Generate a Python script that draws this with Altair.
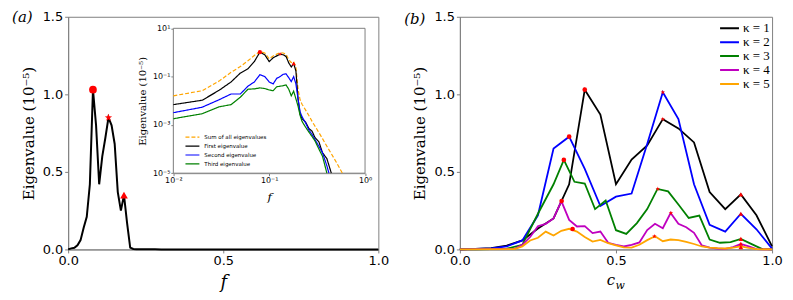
import altair as alt
import pandas as pd

# ---------------- Panel (a): eigenvalues vs f ----------------
f_first = [0.01, 0.02, 0.03, 0.04, 0.05, 0.06, 0.07, 0.08, 0.09, 0.10,
           0.11, 0.12, 0.13, 0.14, 0.15, 0.16, 0.17, 0.18, 0.19, 0.20,
           0.21, 0.22, 0.24, 0.26, 0.28, 0.30, 0.33, 0.36, 0.40, 0.445]
first_eig = [0.0069, 0.0105, 0.027, 0.06, 0.14, 0.21, 0.42, 1.03, 0.80, 0.42,
             0.60, 0.72, 0.85, 0.80, 0.68, 0.37, 0.25, 0.35, 0.17, 0.012,
             0.0028, 0.0018, 0.0013, 0.0007, 0.00055, 0.0003, 0.0002, 0.00007, 0.00004, 0.00001]

f_sum = [0.01, 0.02, 0.03, 0.04, 0.05, 0.06, 0.07, 0.08, 0.09, 0.10,
         0.11, 0.12, 0.13, 0.14, 0.15, 0.16, 0.17, 0.18, 0.19, 0.20,
         0.21, 0.22, 0.24, 0.26, 0.28, 0.30, 0.33, 0.36, 0.40, 0.45, 0.50, 0.58]
sum_eig = [0.016, 0.026, 0.065, 0.15, 0.26, 0.45, 0.75, 1.1, 0.95, 0.55,
           0.72, 0.85, 0.98, 0.95, 0.85, 0.50, 0.38, 0.42, 0.25, 0.03,
           0.011, 0.0072, 0.0041, 0.0024, 0.0014, 0.0009, 0.00048, 0.00027, 0.00013,
           0.000059, 0.000029, 0.00001]

f_second = [0.01, 0.02, 0.03, 0.04, 0.05, 0.06, 0.07, 0.08, 0.09, 0.10,
            0.11, 0.12, 0.13, 0.14, 0.15, 0.16, 0.17, 0.18, 0.19, 0.20,
            0.21, 0.22, 0.24, 0.26, 0.28, 0.30, 0.33, 0.36, 0.40, 0.42]
second_eig = [0.0032, 0.0054, 0.011, 0.019, 0.019, 0.04, 0.06, 0.12, 0.10, 0.06,
              0.05, 0.085, 0.10, 0.125, 0.13, 0.09, 0.062, 0.10, 0.05, 0.012,
              0.0035, 0.0022, 0.0012, 0.0006, 0.0004, 0.00025, 0.00013, 0.00007, 0.00002, 0.00001]

f_third = [0.01, 0.02, 0.03, 0.04, 0.05, 0.06, 0.07, 0.08, 0.09, 0.10,
           0.11, 0.12, 0.13, 0.14, 0.15, 0.16, 0.17, 0.18, 0.19, 0.20,
           0.21, 0.22, 0.24, 0.26, 0.28, 0.30, 0.33, 0.36, 0.40]
third_eig = [0.0018, 0.0029, 0.0056, 0.0069, 0.014, 0.03, 0.031, 0.034, 0.032, 0.028,
             0.026, 0.038, 0.04, 0.042, 0.045, 0.03, 0.016, 0.025, 0.012, 0.006,
             0.0025, 0.0014, 0.0008, 0.0005, 0.00033, 0.00022, 0.0001, 0.00005, 0.00001]

series_names = ["Sum of all eigenvalues", "First eigenvalue", "Second eigenvalue", "Third eigenvalue"]
series_colors = ["orange", "black", "blue", "green"]

# main (linear) curve = first eigenvalue, starting at 0 and flat at 0 up to f = 1
f_main = [0.0] + f_first + [0.5, 1.0]
eig_main = [0.0] + first_eig + [0.0, 0.0]

peak_f = [0.08, 0.13, 0.18]
peak_v = [1.03, 0.85, 0.35]
peak_shape = ["circle", "star", "triangle"]

# ---------------- Panel (b): eigenvalues vs c_w ----------------
kappa_names = ["κ = 1", "κ = 2", "κ = 3", "κ = 4", "κ = 5"]
kappa_colors = ["black", "blue", "green", "#bf00bf", "orange"]

cw_k1 = [0.0, 0.05, 0.10, 0.15, 0.20, 0.25, 0.30, 0.35, 0.40, 0.45, 0.50,
         0.55, 0.60, 0.65, 0.70, 0.75, 0.80, 0.85, 0.90, 0.95, 1.0]
eig_k1 = [0.0, 0.004, 0.009, 0.025, 0.058, 0.135, 0.20, 0.42, 1.03, 0.87, 0.42,
          0.58, 0.67, 0.84, 0.78, 0.69, 0.37, 0.26, 0.355, 0.22, 0.02]

cw_k2 = [0.0, 0.05, 0.10, 0.15, 0.20, 0.25, 0.30, 0.35, 0.40, 0.45, 0.50,
         0.55, 0.60, 0.65, 0.70, 0.75, 0.80, 0.85, 0.90, 0.95, 1.0]
eig_k2 = [0.0, 0.003, 0.007, 0.02, 0.058, 0.22, 0.65, 0.727, 0.52, 0.28, 0.34,
          0.36, 0.68, 1.013, 0.84, 0.42, 0.158, 0.115, 0.23, 0.13, 0.005]

cw_k3 = [0.0, 0.05, 0.10, 0.15, 0.20, 0.25, 0.30, 0.333, 0.367, 0.40, 0.433, 0.467,
         0.50, 0.533, 0.567, 0.60, 0.633, 0.667, 0.70, 0.733, 0.767, 0.80, 0.833,
         0.867, 0.90, 0.933, 0.967, 1.0]
eig_k3 = [0.0, 0.001, 0.002, 0.005, 0.03, 0.23, 0.42, 0.577, 0.436, 0.425, 0.26, 0.315,
          0.124, 0.10, 0.17, 0.26, 0.39, 0.374, 0.29, 0.203, 0.218, 0.064, 0.043,
          0.047, 0.068, 0.036, 0.004, 0.0]

cw_k4 = [0.0, 0.175, 0.20, 0.225, 0.25, 0.275, 0.30, 0.325, 0.35, 0.375, 0.40, 0.425,
         0.45, 0.475, 0.50, 0.525, 0.55, 0.575, 0.60, 0.625, 0.65, 0.675, 0.70, 0.725,
         0.75, 0.775, 0.80, 0.825, 0.85, 0.875, 0.90, 0.925, 0.95, 1.0]
eig_k4 = [0.0, 0.004, 0.03, 0.08, 0.15, 0.165, 0.20, 0.312, 0.19, 0.148, 0.15, 0.105,
          0.115, 0.043, 0.03, 0.019, 0.03, 0.045, 0.125, 0.165, 0.137, 0.235, 0.165, 0.143,
          0.107, 0.026, 0.011, 0.006, 0.004, 0.015, 0.036, 0.02, 0.002, 0.0]

cw_k5 = [0.0, 0.175, 0.20, 0.225, 0.25, 0.275, 0.30, 0.325, 0.35, 0.375, 0.40, 0.425,
         0.45, 0.475, 0.50, 0.525, 0.55, 0.575, 0.60, 0.625, 0.65, 0.675, 0.70, 0.725,
         0.75, 0.775, 0.80, 0.825, 0.85, 0.875, 0.90, 0.925, 0.95, 1.0]
eig_k5 = [0.0, 0.002, 0.02, 0.058, 0.075, 0.115, 0.09, 0.12, 0.133, 0.115, 0.08, 0.051,
          0.062, 0.04, 0.026, 0.013, 0.012, 0.03, 0.06, 0.085, 0.053, 0.064, 0.06, 0.048,
          0.035, 0.019, 0.012, 0.008, 0.006, 0.012, 0.02, 0.01, 0.002, 0.0]

mark_cw = [0.40, 0.35, 0.333, 0.326, 0.361,
           0.65, 0.65, 0.634, 0.676, 0.623,
           0.90, 0.90, 0.90, 0.90, 0.90]
mark_v = [1.03, 0.727, 0.577, 0.312, 0.132,
          0.84, 1.013, 0.39, 0.235, 0.085,
          0.355, 0.23, 0.068, 0.036, 0.015]
mark_shape = ["circle"] * 5 + ["star"] * 5 + ["triangle"] * 5

# ---------------- layout constants ----------------
W_A, W_B, H = 312, 314, 234
INSET_X = [105.8, 298.6]
INSET_Y = [157.3, 11.6]
GRAY = "#808080"
STAR = ("M0,-1L0.235,-0.324L0.951,-0.309L0.38,0.124L0.588,0.809L0,0.4"
        "L-0.588,0.809L-0.38,0.124L-0.951,-0.309L-0.235,-0.324Z")
shape_scale = alt.Scale(domain=["circle", "star", "triangle"], range=["circle", STAR, "triangle-up"])

# ---------------- data frames ----------------
df_main = pd.DataFrame({"f": f_main, "v": eig_main})
df_peaks = pd.DataFrame({"f": peak_f, "v": peak_v, "marker": peak_shape})
df_inset = pd.concat([
    pd.DataFrame({"f": f_sum, "v": sum_eig, "series": series_names[0]}),
    pd.DataFrame({"f": f_first, "v": first_eig, "series": series_names[1]}),
    pd.DataFrame({"f": f_second, "v": second_eig, "series": series_names[2]}),
    pd.DataFrame({"f": f_third, "v": third_eig, "series": series_names[3]}),
], ignore_index=True)
df_b = pd.concat([
    pd.DataFrame({"c": cw_k1, "v": eig_k1, "kappa": kappa_names[0]}),
    pd.DataFrame({"c": cw_k2, "v": eig_k2, "kappa": kappa_names[1]}),
    pd.DataFrame({"c": cw_k3, "v": eig_k3, "kappa": kappa_names[2]}),
    pd.DataFrame({"c": cw_k4, "v": eig_k4, "kappa": kappa_names[3]}),
    pd.DataFrame({"c": cw_k5, "v": eig_k5, "kappa": kappa_names[4]}),
], ignore_index=True)
df_bmarks = pd.DataFrame({"c": mark_cw, "v": mark_v, "marker": mark_shape})
one = pd.DataFrame({"k": [0]})

ytitle = "Eigenvalue (10⁻⁵)"

# ---------------- panel (a) main ----------------
x_main = alt.X("f:Q", scale=alt.Scale(domain=[0, 1], nice=False),
               axis=alt.Axis(orient="bottom", values=[0, 0.5, 1], format=".1f", labelFlush=False,
                             title="f", titleFont="DejaVu Serif", titleFontStyle="italic",
                             titleFontWeight="normal", titleFontSize=18, titlePadding=6))
y_main = alt.Y("v:Q", scale=alt.Scale(domain=[0, 1.5], nice=False),
               axis=alt.Axis(orient="left", values=[0, 0.5, 1, 1.5], format=".1f",
                             title=ytitle, titleFont="DejaVu Serif", titleFontWeight="normal",
                             titleFontSize=15, titlePadding=6))

main_line = alt.Chart(df_main).mark_line(color="black", strokeWidth=2).encode(x=x_main, y=y_main)
main_marks = alt.Chart(df_peaks).mark_point(filled=True, color="red", opacity=1, size=60).encode(
    x=x_main, y=y_main, shape=alt.Shape("marker:N", scale=shape_scale, legend=None))
label_a = alt.Chart(one).mark_text(text="(a)", font="DejaVu Serif", fontStyle="italic", fontSize=15,
                                   align="left", baseline="middle", color="black").encode(
    x=alt.value(-56.4), y=alt.value(0))
frame = alt.Chart(one).mark_rect(fill="white", stroke=GRAY, strokeWidth=1).encode(
    x=alt.value(INSET_X[0]), x2=alt.value(INSET_X[1]), y=alt.value(INSET_Y[1]), y2=alt.value(INSET_Y[0]))
main_layer = alt.layer(main_line, main_marks, label_a, frame)

# ---------------- panel (a) inset ----------------
x_in = alt.X("f:Q", scale=alt.Scale(type="log", domain=[0.01, 1], range=INSET_X, nice=False),
             axis=alt.Axis(orient="bottom", offset=-(H - INSET_Y[0]), values=[0.01, 0.1, 1],
                           labelExpr="datum.value < 0.05 ? '10⁻²' : (datum.value < 0.5 ? '10⁻¹' : '10⁰')",
                           labelFontSize=8, tickSize=2.5, labelPadding=1, labelFlush=False,
                           title="f", titleFont="DejaVu Serif", titleFontStyle="italic",
                           titleFontWeight="normal", titleFontSize=12, titlePadding=7))
y_in = alt.Y("v:Q", scale=alt.Scale(type="log", domain=[1e-5, 10], range=INSET_Y, nice=False),
             axis=alt.Axis(orient="left", offset=-INSET_X[0], values=[1e-5, 1e-3, 1e-1, 10],
                           labelExpr="datum.value < 1e-4 ? '10⁻⁵' : (datum.value < 1e-2 ? '10⁻³' : (datum.value < 1 ? '10⁻¹' : '10¹'))",
                           labelFontSize=8, tickSize=2.5, labelPadding=1,
                           title=ytitle, titleFont="DejaVu Serif", titleFontWeight="normal",
                           titleFontSize=10, titlePadding=5))
leg_a = alt.Legend(orient="none", legendX=117, legendY=116.5, title=None, symbolType="stroke",
                   symbolSize=196, symbolStrokeWidth=1.2, labelFontSize=5.5, labelFont="DejaVu Sans",
                   clipHeight=9, rowPadding=0, padding=0, labelOffset=4, labelColor="black")
inset_lines = alt.Chart(df_inset).mark_line(strokeWidth=1.2).encode(
    x=x_in, y=y_in,
    color=alt.Color("series:N", scale=alt.Scale(domain=series_names, range=series_colors), legend=leg_a),
    strokeDash=alt.StrokeDash("series:N", scale=alt.Scale(domain=series_names,
                                                          range=[[4, 2], [1, 0], [1, 0], [1, 0]]), legend=leg_a),
    order=alt.value(0))
inset_marks = alt.Chart(df_peaks).mark_point(filled=True, color="red", opacity=1, size=18).encode(
    x=x_in, y=y_in, shape=alt.Shape("marker:N", scale=shape_scale, legend=None))
inset_layer = alt.layer(inset_lines, inset_marks)

panel_a = alt.layer(main_layer, inset_layer).resolve_scale(
    x="independent", y="independent").properties(width=W_A, height=H)

# ---------------- panel (b) ----------------
x_b = alt.X("c:Q", scale=alt.Scale(domain=[0, 1], nice=False),
            axis=alt.Axis(orient="bottom", values=[0, 0.5, 1], format=".1f", labelFlush=False, title=None))
y_b = alt.Y("v:Q", scale=alt.Scale(domain=[0, 1.5], nice=False),
            axis=alt.Axis(orient="left", values=[0, 0.5, 1, 1.5], format=".1f",
                          title=ytitle, titleFont="DejaVu Serif", titleFontWeight="normal",
                          titleFontSize=15, titlePadding=6))
leg_b = alt.Legend(orient="none", legendX=260.7, legendY=5, title=None, symbolType="stroke",
                   symbolSize=361, symbolStrokeWidth=2, labelFont="Liberation Serif", labelFontSize=13,
                   clipHeight=13, rowPadding=0, padding=0, labelOffset=3, labelColor="black")
lines_b = alt.Chart(df_b).mark_line(strokeWidth=1.8).encode(
    x=x_b, y=y_b,
    color=alt.Color("kappa:N", scale=alt.Scale(domain=kappa_names, range=kappa_colors), legend=leg_b))
marks_b = alt.Chart(df_bmarks).mark_point(filled=True, color="red", opacity=1, size=22).encode(
    x=x_b, y=y_b, shape=alt.Shape("marker:N", scale=shape_scale, legend=None))
label_b = alt.Chart(one).mark_text(text="(b)", font="DejaVu Serif", fontStyle="italic", fontSize=15,
                                   align="left", baseline="middle", color="black").encode(
    x=alt.value(-56), y=alt.value(2))
cw_c = alt.Chart(one).mark_text(text="c", font="DejaVu Serif", fontStyle="italic", fontSize=15,
                                align="center", baseline="alphabetic", color="black").encode(
    x=alt.value(152), y=alt.value(270))
cw_w = alt.Chart(one).mark_text(text="w", font="DejaVu Serif", fontStyle="italic", fontSize=11,
                                align="left", baseline="alphabetic", color="black").encode(
    x=alt.value(156.5), y=alt.value(273.3))
panel_b = alt.layer(lines_b, marks_b, label_b, cw_c, cw_w).properties(width=W_B, height=H)

chart = alt.hconcat(panel_a, panel_b, spacing=82, bounds="flush").resolve_scale(
    color="independent", strokeDash="independent"
).configure(
    padding={"left": 3.5, "top": 0, "right": 2, "bottom": 2}
).configure_axis(
    labelFont="DejaVu Sans", labelFontSize=13, labelColor="black", domainColor=GRAY,
    tickColor=GRAY, tickSize=3.5, labelPadding=2, grid=False, titleColor="black", labelOverlap=False
).configure_view(stroke=GRAY, strokeWidth=1)

chart.save("out.html", embed_options={"renderer": "svg", "actions": False})
